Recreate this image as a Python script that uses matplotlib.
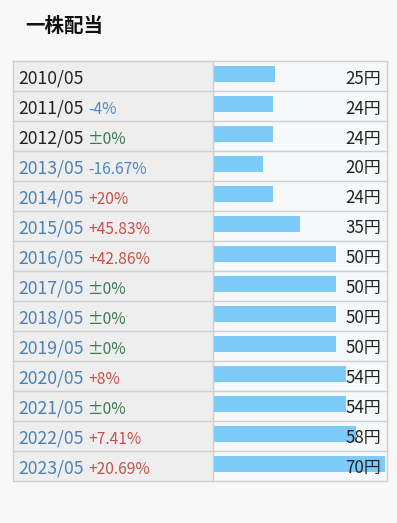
import matplotlib.pyplot as plt

plt.rcParams['font.family'] = ['Noto Sans CJK JP', 'DejaVu Sans']

years = ['2010/05', '2011/05', '2012/05', '2013/05', '2014/05', '2015/05', '2016/05',
         '2017/05', '2018/05', '2019/05', '2020/05', '2021/05', '2022/05', '2023/05']
dividend = [25, 24, 24, 20, 24, 35, 50, 50, 50, 50, 54, 54, 58, 70]
change = ['', '-4%', '±0%', '-16.67%', '+20%', '+45.83%', '+42.86%',
          '±0%', '±0%', '±0%', '+8%', '±0%', '+7.41%', '+20.69%']

W, H = 397, 523
top, row_h = 61, 30
left, mid, right = 13, 213, 387
n = len(years)

fig = plt.figure(figsize=(W / 100, H / 100), dpi=100)
fig.patch.set_facecolor('#f8f8f8')

# background axes in pixel units
bg = fig.add_axes([0, 0, 1, 1])
bg.set_xlim(0, W)
bg.set_ylim(H, 0)
bg.axis('off')

bottom = top + n * row_h
bg.fill_between([left, mid], top, bottom, color='#eeeeee', lw=0)
bg.fill_between([mid, right], top, bottom, color='#f6f8fa', lw=0)
for i in range(n + 1):
    bg.plot([left, right], [top + i * row_h] * 2, color='#cfcfcf', lw=1)
bg.plot([left, left], [top, bottom], color='#cfcfcf', lw=1)
bg.plot([right, right], [top, bottom], color='#cfcfcf', lw=1)
bg.plot([mid, mid], [top, bottom], color='#cfcfcf', lw=1)

bg.text(25, 26, '一株配当', fontsize=14, fontweight='bold', va='center', color='#111111')

for i, (yr, ch) in enumerate(zip(years, change)):
    base = top + i * row_h + 22.5
    yc = '#222222' if i < 3 else '#4a82b4'
    bg.text(18, base, yr, fontsize=12.7, color=yc, va='baseline')
    if ch.startswith('+'):
        cc = '#c8504a'
    elif ch.startswith('-'):
        cc = '#4a8ac8'
    else:
        cc = '#3a7a52'
    bg.text(88, base, ch, fontsize=11.2, color=cc, va='baseline')

# bar axes over the right column
ax = fig.add_axes([(mid + 1) / W, 1 - bottom / H, (right - mid - 1) / W, n * row_h / H])
ax.set_xlim(0, 70 * 173 / 171)
ax.set_ylim(n, 0)
ax.axis('off')
pos = [i + 0.43 for i in range(n)]
ax.barh(pos, dividend, height=0.54, color='#7dcbf8', align='center', zorder=2)
for i, v in enumerate(dividend):
    ax.text(0.967, i + 0.75, f'{v}円', transform=ax.get_yaxis_transform(),
            ha='right', va='baseline', fontsize=12.2, color='#222222', zorder=3)

fig.savefig('out.png', dpi=100, facecolor=fig.get_facecolor())
